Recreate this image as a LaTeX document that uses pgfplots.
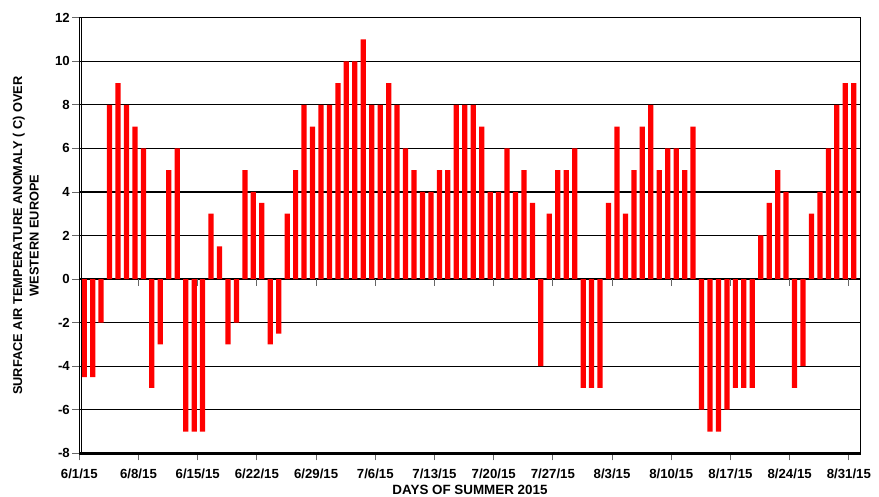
\documentclass[border=0pt]{standalone}
\usepackage{fontspec}
\setmainfont{Liberation Sans}
\usepackage{pgfplots}
\usepackage{pgfplotstable}
\pgfplotsset{compat=1.18}
\pgfplotstableread{
v
-4.5
-4.5
-2
8
9
8
7
6
-5
-3
5
6
-7
-7
-7
3
1.5
-3
-2
5
4
3.5
-3
-2.5
3
5
8
7
8
8
9
10
10
11
8
8
9
8
6
5
4
4
5
5
8
8
8
7
4
4
6
4
5
3.5
-4
3
5
5
6
-5
-5
-5
3.5
7
3
5
7
8
5
6
6
5
7
-6
-7
-7
-6
-5
-5
-5
2
3.5
5
4
-5
-4
3
4
6
8
9
9
}\anomaly
\begin{document}
\begin{tikzpicture}
\useasboundingbox (-79.3pt,-43.7pt) rectangle (799.7pt,453.3pt);
\begin{axis}[
  at={(0,0)}, anchor=south west,
  scale only axis, width=781.4pt, height=435.6pt,
  xmin=0, xmax=92.4, ymin=-8, ymax=12,
  clip=false,
  ytick={-8,-6,...,12},
  xtick={0,7,...,91},
  xticklabels={6/1/15,6/8/15,6/15/15,6/22/15,6/29/15,7/6/15,7/13/15,7/20/15,7/27/15,8/3/15,8/10/15,8/17/15,8/24/15,8/31/15},
  tick align=outside,
  major tick length=7pt,
  tick style={black!60, line width=0.8pt},
  xtick pos=left, ytick pos=left,
  ymajorgrids, grid style={black, line width=1.3pt},
  axis line style={black, line width=1pt},
  tick label style={font=\bfseries\fontsize{13.2}{15}\selectfont},
  xticklabel style={anchor=north, yshift=-5.5pt},
  yticklabel style={anchor=east, xshift=1pt},
  /pgf/number format/assume math mode=true,
  xlabel={DAYS OF SUMMER 2015},
  ylabel={SURFACE AIR TEMPERATURE ANOMALY ( C) OVER\\WESTERN EUROPE},
  xlabel style={font=\bfseries\fontsize{13.4}{16}\selectfont, at={([yshift=-41.7pt]axis description cs:0.5,0)}, anchor=base},
  ylabel style={font=\bfseries\fontsize{12.8}{16.7}\selectfont, at={([xshift=-53.5pt]axis description cs:0,0.5)}, anchor=center, rotate=0, align=center},
]
\addplot[ybar, bar width=0.62, bar shift=0pt, fill=red, draw=none] table[x expr=\coordindex+0.58, y=v] {\anomaly};
\pgfplotsinvokeforeach{7,14,...,91}{
  \draw[black!60, line width=0.8pt] (axis cs:#1,0) -- ++(0pt,-7pt);
}
\draw[black, line width=2.6pt] (axis cs:0,-8) -- (axis cs:92.4,-8);
\draw[black, line width=0.8pt] (axis cs:0.3,-8) -- (axis cs:0.3,12);
\end{axis}
\end{tikzpicture}
\end{document}
